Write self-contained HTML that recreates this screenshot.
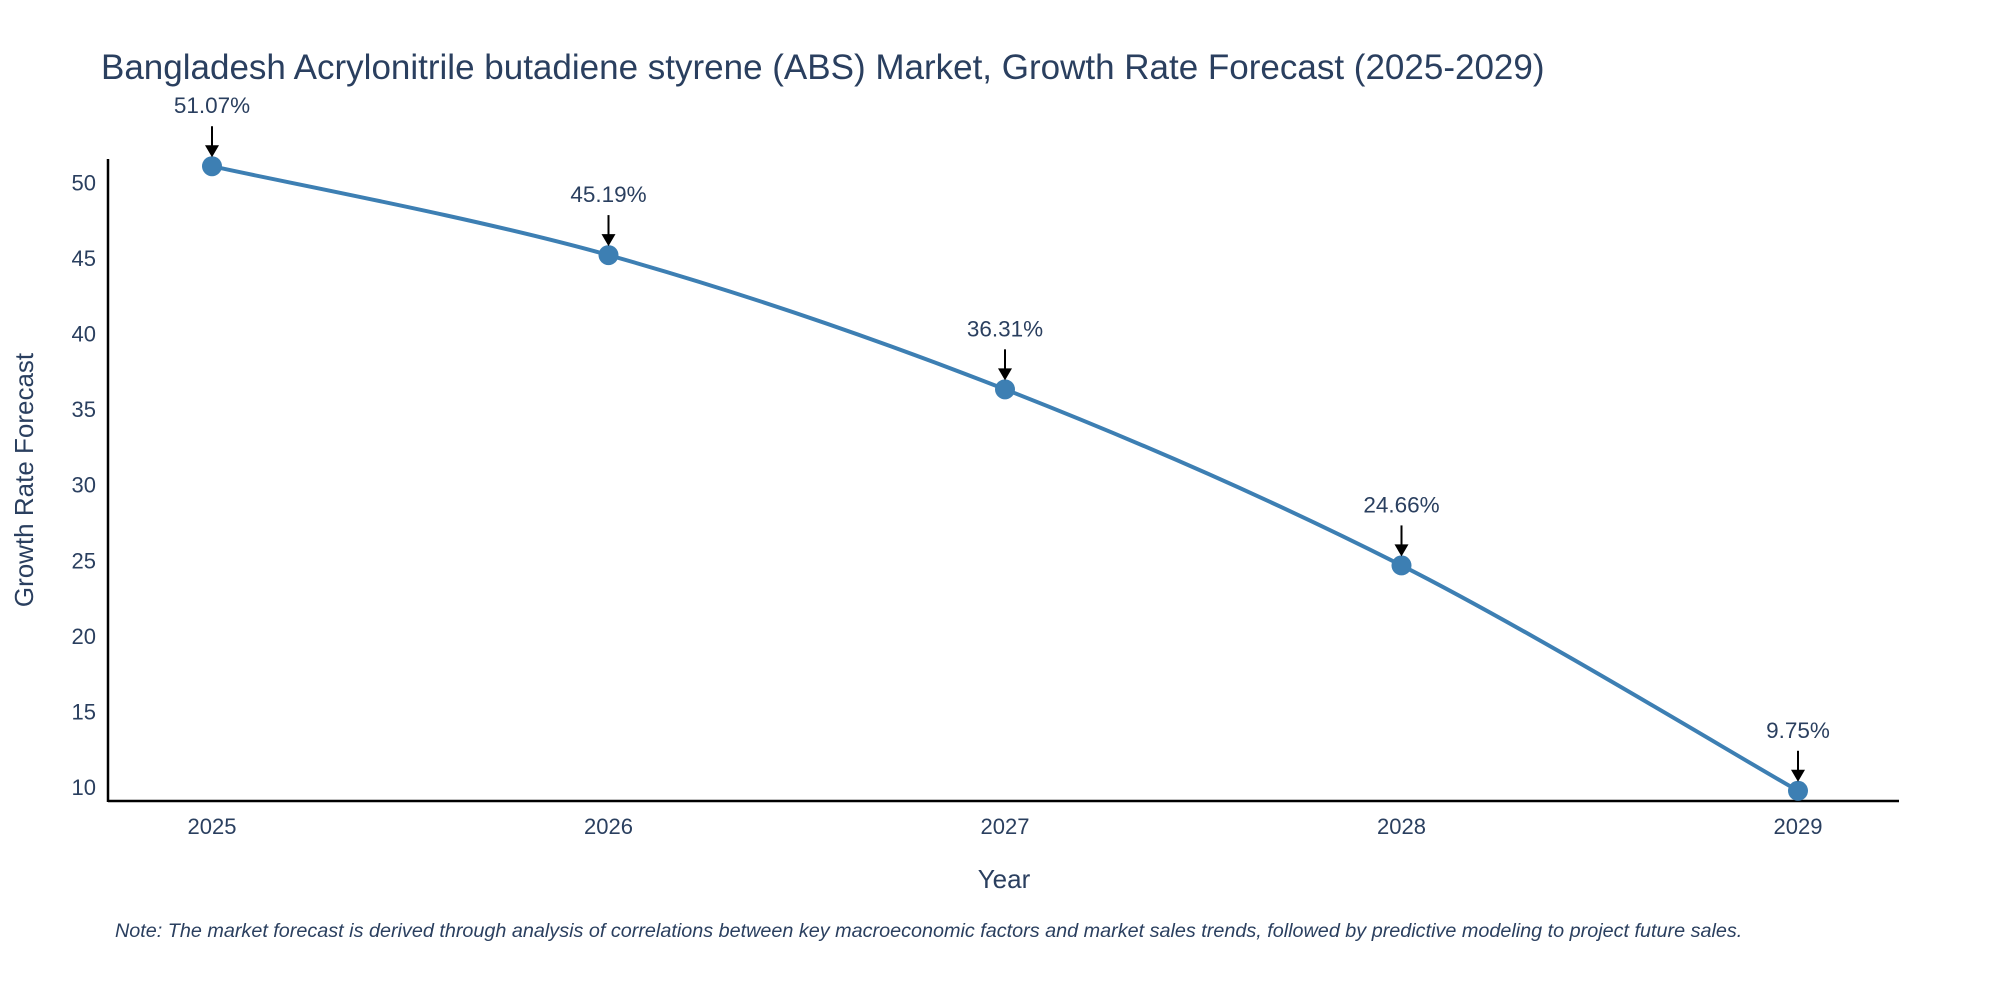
<!DOCTYPE html>
<html><head><meta charset="utf-8"><style>
body{margin:0;background:#fff;width:2000px;height:1000px;overflow:hidden;font-family:"Liberation Sans",sans-serif}
</style></head><body>
<svg width="2000" height="1000" xmlns="http://www.w3.org/2000/svg">
<text x="101" y="79" font-size="35" fill="#2a3f5f">Bangladesh Acrylonitrile butadiene styrene (ABS) Market, Growth Rate Forecast (2025-2029)</text>
<g id="plot"></g>
<text x="1004" y="888" font-size="26" fill="#2a3f5f" text-anchor="middle">Year</text>
<text transform="translate(33,480) rotate(-90)" font-size="26" fill="#2a3f5f" text-anchor="middle">Growth Rate Forecast</text>
<text x="115" y="937" font-size="19.8" font-style="italic" fill="#2a3f5f">Note: The market forecast is derived through analysis of correlations between key macroeconomic factors and market sales trends, followed by predictive modeling to project future sales.</text>
</svg>
<script>
const years=[2025,2026,2027,2028,2029];
const values=[51.07,45.19,36.31,24.66,9.75];
const yTicks=[10,15,20,25,30,35,40,45,50];
const labels=["51.07%","45.19%","36.31%","24.66%","9.75%"];
const NS="http://www.w3.org/2000/svg";
const g=document.getElementById('plot');
const xs=y=>212+(y-2025)*(1798-212)/4;
const ys=v=>787-(v-10)*(787-182.4)/40;
function mk(t,a,p){const e=document.createElementNS(NS,t);for(const k in a)e.setAttribute(k,a[k]);(p||g).appendChild(e);return e;}
let ax=mk('line',{x1:108,y1:801,x2:1899,y2:801,stroke:'#000','stroke-width':2.5});


let ay=mk('line',{x1:108,y1:159,x2:108,y2:802,stroke:'#000','stroke-width':2.5});


yTicks.forEach(t=>{const e=mk('text',{x:96,y:ys(t)+8,'font-size':22,fill:'#2a3f5f','text-anchor':'end'});e.textContent=t;

});
years.forEach(y=>{const e=mk('text',{x:xs(y),y:834,'font-size':22,fill:'#2a3f5f','text-anchor':'middle'});e.textContent=y;

});
const P=years.map((y,i)=>[xs(y),ys(values[i])]);
let d='M'+P[0][0]+','+P[0][1];
for(let i=0;i<P.length-1;i++){const p0=P[i-1]||P[i],p1=P[i],p2=P[i+1],p3=P[i+2]||P[i+1];
const c1=[p1[0]+(p2[0]-p0[0])/6,p1[1]+(p2[1]-p0[1])/6],c2=[p2[0]-(p3[0]-p1[0])/6,p2[1]-(p3[1]-p1[1])/6];
d+=` C${c1[0]},${c1[1]} ${c2[0]},${c2[1]} ${p2[0]},${p2[1]}`;}
let ln=mk('path',{d:d,fill:'none',stroke:'#3d7fb3','stroke-width':4});


P.forEach((p,i)=>{
const c=mk('circle',{cx:p[0],cy:p[1],r:10,fill:'#3d7fb3'});


const l=mk('line',{x1:p[0],y1:p[1]-40,x2:p[0],y2:p[1]-20,stroke:'#000','stroke-width':2});


const h=mk('path',{d:`M${p[0]-7},${p[1]-21} L${p[0]+7},${p[1]-21} L${p[0]},${p[1]-9} Z`,fill:'#000'});


const t=mk('text',{x:p[0],y:p[1]-53,'font-size':22.5,fill:'#2a3f5f','text-anchor':'middle'});t.textContent=labels[i];


});
</script>
</body></html>
